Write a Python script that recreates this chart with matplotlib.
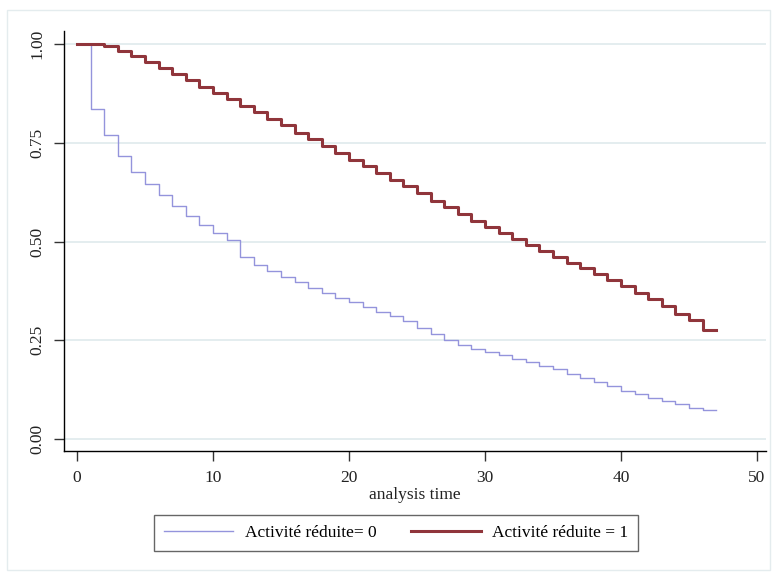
import matplotlib
matplotlib.use("Agg")
import matplotlib.pyplot as plt
from matplotlib.patches import Rectangle

plt.rcParams['font.family'] = ['Liberation Serif', 'DejaVu Serif']

# temps d'analyse (debut de chaque palier, plus la fin)
time = [0, 1, 2, 3, 4, 5, 6, 7, 8, 9, 10, 11, 12, 13, 14, 15, 16, 17, 18, 19,
        20, 21, 22, 23, 24, 25, 26, 27, 28, 29, 30, 31, 32, 33, 34, 35, 36, 37,
        38, 39, 40, 41, 42, 43, 44, 45, 46, 47]

# survie, activite reduite = 0
surv0 = [1.0, 0.835, 0.769, 0.717, 0.677, 0.645, 0.617, 0.589, 0.565, 0.541,
         0.521, 0.503, 0.461, 0.442, 0.426, 0.410, 0.397, 0.383, 0.369, 0.357,
         0.346, 0.334, 0.323, 0.311, 0.298, 0.282, 0.266, 0.251, 0.239, 0.229,
         0.221, 0.213, 0.203, 0.196, 0.186, 0.178, 0.166, 0.156, 0.145, 0.134,
         0.123, 0.114, 0.105, 0.096, 0.088, 0.080, 0.073, 0.073]

# survie, activite reduite = 1
surv1 = [1.0, 1.0, 0.995, 0.983, 0.969, 0.954, 0.940, 0.925, 0.909, 0.892,
         0.876, 0.860, 0.844, 0.827, 0.810, 0.794, 0.776, 0.759, 0.742, 0.724,
         0.707, 0.691, 0.673, 0.656, 0.640, 0.622, 0.604, 0.587, 0.570, 0.553,
         0.537, 0.522, 0.506, 0.491, 0.477, 0.462, 0.447, 0.433, 0.419, 0.403,
         0.387, 0.371, 0.354, 0.336, 0.318, 0.301, 0.277, 0.277]

labels = ['Activité réduite= 0', 'Activité réduite = 1']
xticks = [0, 10, 20, 30, 40, 50]
yticks = [0.0, 0.25, 0.5, 0.75, 1.0]
yticklabels = ['0.00', '0.25', '0.50', '0.75', '1.00']

W, H = 774, 574
fs = 12.5
fig = plt.figure(figsize=(W / 100, H / 100), dpi=100)
fig.patch.set_facecolor('white')

# cadre exterieur leger (style Stata)
fig.patches.append(Rectangle((7 / W, 1 - 570 / H), 763 / W, 560 / H,
                             transform=fig.transFigure, fill=False,
                             edgecolor='#e4ecee', lw=1.0))

ax = fig.add_axes([64 / W, 1 - 451 / H, (766 - 64) / W, (451 - 31) / H])

for yv in yticks:
    ax.axhline(yv, color='#e4edef', lw=1.4, zorder=0)

ax.step(time, surv0, where='post', color='#9494dc', lw=1.0, label=labels[0])
ax.step(time, surv1, where='post', color='#90353b', lw=2.2, label=labels[1])

ax.set_xlim(-0.956, 50.66)
ax.set_ylim(-0.030, 1.033)
ax.set_xticks(xticks)
ax.set_yticks(yticks)
ax.set_yticklabels(yticklabels, rotation=90, va='center')

for s in ['top', 'right']:
    ax.spines[s].set_visible(False)
for s in ['left', 'bottom']:
    ax.spines[s].set_linewidth(1.0)
    ax.spines[s].set_color('black')

ax.tick_params(axis='both', direction='out', length=7.5, width=1.0,
               color='#333333', labelsize=fs, labelcolor='#222222', pad=6)
ax.set_xlabel('analysis time', fontsize=fs, color='#222222', labelpad=1)

leg = fig.legend(loc='center', bbox_to_anchor=(396 / W, 1 - 533 / H), ncol=2,
                 fontsize=fs, frameon=True, fancybox=False, handlelength=4.0,
                 columnspacing=2.0, borderpad=0.6, handletextpad=0.65)
leg.get_frame().set_edgecolor('#404040')
leg.get_frame().set_linewidth(1.0)

fig.savefig('out.png', dpi=100)
